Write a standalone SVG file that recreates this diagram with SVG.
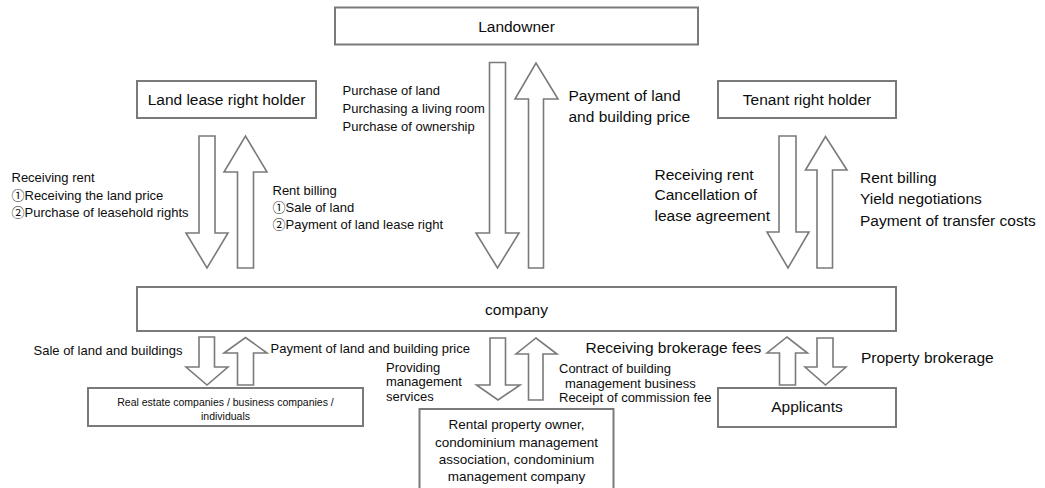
<svg xmlns="http://www.w3.org/2000/svg" width="1045" height="488" viewBox="0 0 1045 488">
<style>
.box{fill:#fff;stroke:#7a7a7a;stroke-width:2}
.arr{fill:#fff;stroke:#7a7a7a;stroke-width:1.6;stroke-linejoin:miter}
text{font-family:"Liberation Sans","Noto Sans CJK JP",sans-serif;fill:#0d0d0d}
.lg{font-size:15.5px}
.sm{font-size:13px}
.xs{font-size:10.5px}
.md{font-size:13.5px}
.c{text-anchor:middle}
</style>
<rect width="1045" height="488" fill="#fff"/>
<g id="connectors">
<polygon class="arr" points="199,136 215,136 215,233 228,233 207,268 186,233 199,233"/>
<polygon class="arr" points="237.5,268 253.5,268 253.5,172 267,172 245.5,136 224,172 237.5,172"/>
<polygon class="arr" points="489.5,62.5 505.5,62.5 505.5,233 519,233 497.5,268 476,233 489.5,233"/>
<polygon class="arr" points="528.5,268 543.5,268 543.5,99 558,99 536,63 515,99 528.5,99"/>
<polygon class="arr" points="779,136 796,136 796,232 809,232 788,268 767,232 779,232"/>
<polygon class="arr" points="817,268 832.5,268 832.5,170 847,170 825.5,136.5 805.5,170 817,170"/>
<polygon class="arr" points="199,337 214.5,337 214.5,367 228,367 207,385 186,367 199,367"/>
<polygon class="arr" points="237.5,385 253.5,385 253.5,353 267,353 245.5,337.5 224,353 237.5,353"/>
<polygon class="arr" points="490,338 505.5,338 505.5,385 520,385 498,400 476.5,385 490,385"/>
<polygon class="arr" points="528.5,400 543,400 543,354 557,354 536,338 516,354 528.5,354"/>
<polygon class="arr" points="779.5,385 795.5,385 795.5,353 807.5,353 787,337 767,353 779.5,353"/>
<polygon class="arr" points="817,338 833,338 833,367 846,367 825.5,385 805,367 817,367"/>
</g>
<g id="labels">
<text class="sm" x="342.5" y="95">Purchase of land</text>
<text class="sm" x="342.5" y="113">Purchasing a living room</text>
<text class="sm" x="342.5" y="130.5">Purchase of ownership</text>
<text class="lg" x="568.5" y="101">Payment of land</text>
<text class="lg" x="568.5" y="122">and building price</text>
<text class="sm" x="11.5" y="182">Receiving rent</text>
<text class="sm" x="11.5" y="199.5">①Receiving the land price</text>
<text class="sm" x="11.5" y="217">②Purchase of leasehold rights</text>
<text class="sm" x="272.5" y="195">Rent billing</text>
<text class="sm" x="272.5" y="212">①Sale of land</text>
<text class="sm" x="272.5" y="229">②Payment of land lease right</text>
<text class="lg" x="654.5" y="179.5">Receiving rent</text>
<text class="lg" x="654.5" y="200">Cancellation of</text>
<text class="lg" x="654.5" y="220.5">lease agreement</text>
<text class="lg" x="860" y="183">Rent billing</text>
<text class="lg" x="860" y="204">Yield negotiations</text>
<text class="lg" x="860" y="225.5">Payment of transfer costs</text>
<text class="sm" x="33.5" y="355">Sale of land and buildings</text>
<text class="sm" x="270.5" y="352.5">Payment of land and building price</text>
<text class="sm" x="386" y="372">Providing</text>
<text class="sm" x="386" y="386">management</text>
<text class="sm" x="386" y="400.5">services</text>
<text class="lg" x="585.5" y="353">Receiving brokerage fees</text>
<text class="lg" x="861" y="363">Property brokerage</text>
<text class="sm" x="559" y="373">Contract of building</text>
<text class="sm" x="565" y="387.5">management business</text>
<text class="sm" x="559" y="401.5">Receipt of commission fee</text>
</g>
<g id="landowner">
<rect class="box" x="335" y="7.5" width="363" height="37"/>
<text class="lg c" x="516.5" y="31.5">Landowner</text>
</g>
<g id="land-lease-right-holder">
<rect class="box" x="137" y="81" width="179" height="37"/>
<text class="lg c" x="226.5" y="105">Land lease right holder</text>
</g>
<g id="tenant-right-holder">
<rect class="box" x="718" y="81" width="178" height="37"/>
<text class="lg c" x="807" y="105">Tenant right holder</text>
</g>
<g id="company">
<rect class="box" x="137" y="287" width="759" height="44"/>
<text class="lg c" x="516.5" y="315">company</text>
</g>
<g id="real-estate">
<rect class="box" x="88" y="388" width="275" height="38"/>
<text class="xs c" x="225.5" y="405.5">Real estate companies / business companies /</text>
<text class="xs c" x="225.5" y="419.5">individuals</text>
</g>
<g id="rental-property">
<rect class="box" x="419.5" y="409" width="194" height="90"/>
<text class="md c" x="516.5" y="429">Rental property owner,</text>
<text class="md c" x="516.5" y="446.5">condominium management</text>
<text class="md c" x="516.5" y="464">association, condominium</text>
<text class="md c" x="516.5" y="481">management company</text>
</g>
<g id="applicants">
<rect class="box" x="718" y="388" width="178" height="39"/>
<text class="lg c" x="807" y="412">Applicants</text>
</g>
</svg>
